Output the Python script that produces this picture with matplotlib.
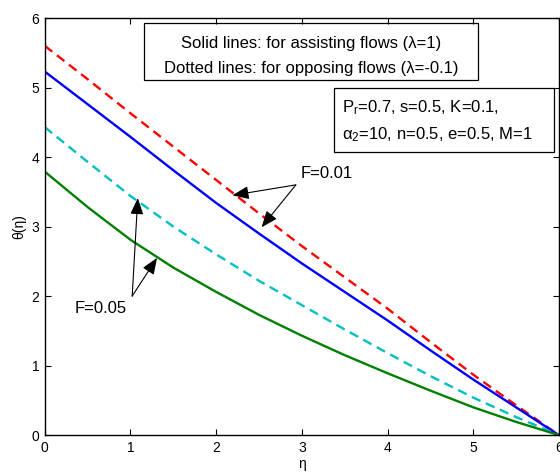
import numpy as np
import matplotlib.pyplot as plt
from matplotlib.patches import Rectangle

plt.rcParams['font.family'] = ['Liberation Sans', 'DejaVu Sans']
plt.rcParams['mathtext.default'] = 'regular'

# eta values and theta profiles
eta = [0, 0.5, 1, 1.5, 2, 2.5, 3, 3.5, 4, 4.5, 5, 5.5, 6]
theta_red = [5.60, 5.12, 4.63, 4.15, 3.67, 3.19, 2.72, 2.27, 1.82, 1.34, 0.87, 0.43, 0]
theta_blue = [5.23, 4.76, 4.29, 3.81, 3.34, 2.90, 2.47, 2.06, 1.65, 1.22, 0.80, 0.40, 0]
theta_cyan = [4.43, 3.93, 3.44, 3.00, 2.60, 2.22, 1.87, 1.52, 1.18, 0.85, 0.54, 0.26, 0]
theta_green = [3.79, 3.28, 2.81, 2.41, 2.06, 1.73, 1.43, 1.15, 0.89, 0.64, 0.40, 0.19, 0]

fig = plt.figure(figsize=(5.6, 4.75), dpi=100)
ax = fig.add_axes([0.080, 0.084, 0.918, 0.878])

ax.plot(eta, theta_red, color='red', ls='--', lw=1.7, dashes=(4, 2.5))
ax.plot(eta, theta_blue, color='blue', ls='-', lw=1.7)
ax.plot(eta, theta_cyan, color=(0, 0.75, 0.75), ls='--', lw=1.7, dashes=(4, 2.5))
ax.plot(eta, theta_green, color=(0, 0.5, 0), ls='-', lw=1.7)

ax.set_xlim(0, 6)
ax.set_ylim(0, 6)
ax.set_xticks(range(7))
ax.set_yticks(range(7))
ax.tick_params(direction='in', top=True, right=True, length=4, labelsize=10, pad=4)
for s in ax.spines.values():
    s.set_linewidth(1.0)
ax.set_xlabel('η', fontsize=10, labelpad=2)
ax.set_ylabel('θ(η)', fontsize=10, labelpad=4)

# info boxes
ax.add_patch(Rectangle((1.155, 5.11), 3.905, 0.82, fill=False, lw=0.9, ec='black', zorder=5))
ax.text(3.11, 5.64, 'Solid lines: for assisting flows (λ=1)', ha='center', va='center', fontsize=12)
ax.text(3.11, 5.28, 'Dotted lines: for opposing flows (λ=-0.1)', ha='center', va='center', fontsize=12)

ax.add_patch(Rectangle((3.37, 4.07), 2.57, 0.92, fill=False, lw=0.9, ec='black', zorder=5))
ax.text(3.47, 4.71, '$P_r$=0.7, s=0.5, K=0.1,', ha='left', va='center', fontsize=12)
ax.text(3.47, 4.32, '$\\alpha_2$=10, n=0.5, e=0.5, M=1', ha='left', va='center', fontsize=12)

# annotations
arr = dict(arrowstyle='-|>,head_length=1.0,head_width=0.4', color='black', lw=0.8, shrinkA=0, shrinkB=0)
ax.text(2.98, 3.76, 'F=0.01', ha='left', va='center', fontsize=12)
ax.annotate('', xy=(2.19, 3.45), xytext=(2.93, 3.60), arrowprops=arr)
ax.annotate('', xy=(2.53, 2.99), xytext=(2.93, 3.60), arrowprops=arr)

ax.text(0.35, 1.82, 'F=0.05', ha='left', va='center', fontsize=12)
ax.annotate('', xy=(1.085, 3.41), xytext=(1.02, 2.00), arrowprops=arr)
ax.annotate('', xy=(1.31, 2.55), xytext=(1.02, 2.00), arrowprops=arr)

plt.savefig('out.png', dpi=100)
